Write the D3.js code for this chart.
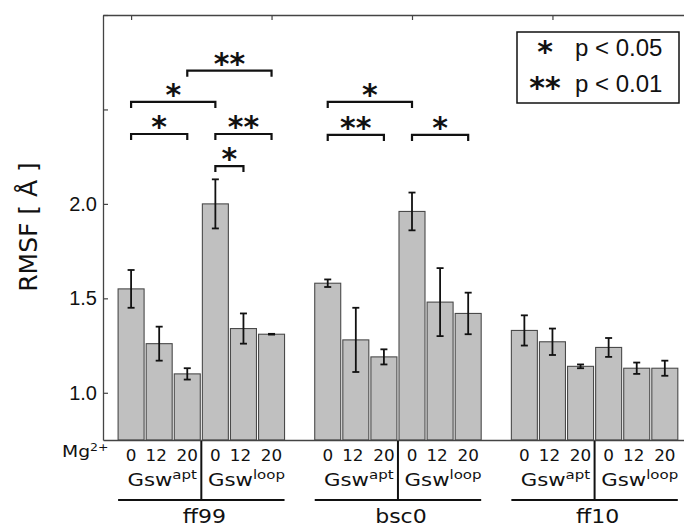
<!DOCTYPE html>
<html>
<head>
<meta charset="utf-8">
<script src="https://cdn.jsdelivr.net/npm/d3@7"></script>
<style>
  body { margin: 0; background: #fff; }
</style>
</head>
<body>
<div id="chart"></div>
<script>
// RMSF per force field, construct (apt / loop) and Mg2+ concentration
const forceFields = ["ff99", "bsc0", "ff10"];
const constructs = [["Gsw", "apt"], ["Gsw", "loop"]];
const mgLevels = ["0", "12", "20"];

const rmsfFf99 = [1.55, 1.26, 1.10, 2.00, 1.34, 1.31];
const errFf99  = [0.10, 0.09, 0.03, 0.13, 0.08, 0.002];
const rmsfBsc0 = [1.58, 1.28, 1.19, 1.96, 1.48, 1.42];
const errBsc0  = [0.02, 0.17, 0.04, 0.10, 0.18, 0.11];
const rmsfFf10 = [1.33, 1.27, 1.14, 1.24, 1.13, 1.13];
const errFf10  = [0.08, 0.07, 0.01, 0.05, 0.03, 0.04];

// significance brackets: [from bar, to bar] (global bar index), height, label
const sigPairs  = [[0, 2], [3, 5], [3, 4], [0, 3], [2, 5], [7, 9], [10, 12], [7, 10]];
const sigLevels = [2.37, 2.37, 2.20, 2.54, 2.705, 2.365, 2.365, 2.54];
const sigLabels = ["*", "**", "*", "*", "**", "**", "*", "*"];

const legendStars = ["*", "**"];
const legendTexts = ["p < 0.05", "p < 0.01"];

const yTicks = [1.0, 1.5, 2.0, 2.5, 3.0];
const xTicks = [0, 5, 10, 15, 20];

const W = 684, H = 527;
const plot = {left: 103, top: 15, bottom: 440, right: 721};
const barW = 26;
const groupSize = 7; // 6 bars + 1 gap

const allValues = [rmsfFf99, rmsfBsc0, rmsfFf10];
const allErrors = [errFf99, errBsc0, errFf10];

const bars = [];
allValues.forEach((vals, g) => {
  vals.forEach((v, j) => {
    bars.push({g: g, j: j, idx: g * groupSize + j, value: v, err: allErrors[g][j]});
  });
});

const x = d3.scaleLinear().domain([-1, 21]).range([plot.left, plot.right]);
const y = d3.scaleLinear().domain([0.75, 3.0]).range([plot.bottom, plot.top]);

const svg = d3.select("#chart").append("svg")
    .attr("width", W)
    .attr("height", H)
    .style("font-family", "'DejaVu Sans', sans-serif");

svg.append("defs").append("clipPath").attr("id", "clip")
  .append("rect")
    .attr("x", plot.left).attr("y", plot.top)
    .attr("width", plot.right - plot.left)
    .attr("height", plot.bottom - plot.top);

const inner = svg.append("g").attr("clip-path", "url(#clip)");

// bars
inner.selectAll(".bar")
    .data(bars)
  .enter().append("rect")
    .attr("class", "bar")
    .attr("x", d => x(d.idx) - barW / 2)
    .attr("y", d => y(d.value))
    .attr("width", barW)
    .attr("height", d => y(0.75) - y(d.value))
    .attr("fill", "#c0c0c0")
    .attr("stroke", "#4a4a4a")
    .attr("stroke-width", 1.1);

// error bars
const eb = inner.selectAll(".err")
    .data(bars)
  .enter().append("g")
    .attr("class", "err")
    .attr("stroke", "#111")
    .attr("stroke-width", 1.8);
eb.append("line")
    .attr("x1", d => x(d.idx)).attr("x2", d => x(d.idx))
    .attr("y1", d => y(d.value - d.err)).attr("y2", d => y(d.value + d.err));
eb.append("line")
    .attr("x1", d => x(d.idx) - 3.5).attr("x2", d => x(d.idx) + 3.5)
    .attr("y1", d => y(d.value + d.err)).attr("y2", d => y(d.value + d.err));
eb.append("line")
    .attr("x1", d => x(d.idx) - 3.5).attr("x2", d => x(d.idx) + 3.5)
    .attr("y1", d => y(d.value - d.err)).attr("y2", d => y(d.value - d.err));

// axes
const yAxis = svg.append("g")
    .attr("transform", `translate(${plot.left},0)`)
    .call(d3.axisLeft(y).tickValues(yTicks).tickSize(-5).tickSizeOuter(0).tickPadding(6)
      .tickFormat(d => d <= 2 ? d3.format(".1f")(d) : ""));
yAxis.selectAll("text").style("font-size", "20px").attr("fill", "#111");

const topAxis = svg.append("g")
    .attr("transform", `translate(0,${plot.top})`)
    .call(d3.axisTop(x).tickValues(xTicks).tickSize(-5).tickSizeOuter(0).tickFormat(""));

const bottomAxis = svg.append("g")
    .attr("transform", `translate(0,${plot.bottom})`)
    .call(d3.axisBottom(x).tickValues([]).tickSizeOuter(0));

[yAxis, topAxis, bottomAxis].forEach(a => {
  a.select(".domain").attr("stroke", "#444").attr("stroke-width", 1.3);
  a.selectAll(".tick line").attr("stroke", "#444").attr("stroke-width", 1.2);
});

// y label
svg.append("text")
    .attr("transform", "translate(37,227) rotate(-90)")
    .attr("text-anchor", "middle")
    .style("font-size", "25px")
    .attr("fill", "#111")
    .text("RMSF [ Å ]");

// significance brackets
const starSize = 30;
const starLift = 0.5 * starSize; // asterisk centre above baseline
function star(sel, cx, cy, label) {
  return sel.append("text")
      .attr("x", cx)
      .attr("y", cy + starLift)
      .attr("text-anchor", "middle")
      .style("font-family", "'DejaVu Sans', sans-serif")
      .style("font-weight", "bold")
      .style("font-size", starSize + "px")
      .attr("fill", "#111")
      .text(label);
}

const sig = svg.append("g");
sigPairs.forEach((p, k) => {
  const x1 = x(p[0]), x2 = x(p[1]), yy = y(sigLevels[k]);
  sig.append("path")
      .attr("d", d3.line()([[x1, yy + 6], [x1, yy], [x2, yy], [x2, yy + 6]]))
      .attr("fill", "none")
      .attr("stroke", "#111")
      .attr("stroke-width", 2.2);
  star(sig, (x1 + x2) / 2, yy - 12, sigLabels[k]);
});

// legend
const lg = svg.append("g");
lg.append("rect")
    .attr("x", 517).attr("y", 32)
    .attr("width", 162).attr("height", 71)
    .attr("fill", "#fff")
    .attr("stroke", "#111")
    .attr("stroke-width", 1.5);
legendTexts.forEach((t, k) => {
  const base = 56 + k * 36;
  star(lg, 545, base - 9, legendStars[k]);
  lg.append("text")
      .attr("x", 575)
      .attr("y", base)
      .style("font-family", "'Liberation Sans', Arial, sans-serif")
      .style("font-size", "24px")
      .attr("fill", "#111")
      .text(t);
});

// bottom category labels (slightly wide lettering)
const lab = svg.append("g").attr("fill", "#111");

function wideText(px, py, size, anchor, stretch) {
  return lab.append("text")
      .attr("transform", `translate(${px},${py}) scale(${stretch},1)`)
      .attr("text-anchor", anchor)
      .style("font-size", size + "px");
}

const mg = wideText(62, 457, 15, "start", 1.25);
mg.append("tspan").text("Mg");
mg.append("tspan").attr("dy", -6).style("font-size", "10px").text("2+");

forceFields.forEach((ff, g) => {
  const g0 = g * groupSize;
  constructs.forEach((c, ci) => {
    mgLevels.forEach((m, mi) => {
      wideText(x(g0 + ci * 3 + mi) - (mi === 1 ? 3 : 0), 461, 16, "middle", 1.05).text(m);
    });
    const t = wideText(x(g0 + ci * 3 + 1) + 3, 486, 17, "middle", 1.25);
    t.append("tspan").text(c[0]);
    t.append("tspan").attr("dy", -7).style("font-size", "12px").text(c[1]);
  });
  lab.append("line")
      .attr("x1", x(g0 + 2.5)).attr("x2", x(g0 + 2.5))
      .attr("y1", plot.bottom + 1).attr("y2", 500)
      .attr("stroke", "#111").attr("stroke-width", 2);
  lab.append("line")
      .attr("x1", x(g0) - barW / 2).attr("x2", x(g0 + 5) + barW / 2)
      .attr("y1", 500).attr("y2", 500)
      .attr("stroke", "#111").attr("stroke-width", 2);
  wideText(x(g0 + 2.5) + 3, 523, 20, "middle", 1.1).text(ff);
});
</script>
</body>
</html>
